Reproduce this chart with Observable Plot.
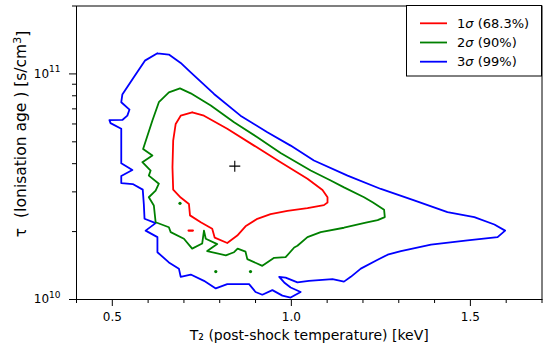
<!DOCTYPE html>
<html><head><meta charset="utf-8">
<script src="https://cdn.jsdelivr.net/npm/d3@7"></script>
<script src="https://cdn.jsdelivr.net/npm/@observablehq/plot@0.6"></script>
<style>body{margin:0;background:#fff;} svg{display:block}</style>
</head><body><div id="chart"></div>
<script>
// [T2 (keV), tau (units of 1e10 s/cm^3)]
const sigma1 = [[0.723,6.76],[0.756,6.53],[0.821,5.71],[0.896,4.81],[0.970,4.06],[1.045,3.43],[1.087,3.06],[1.101,2.84],[1.101,2.69],[1.091,2.62],[1.045,2.54],[0.989,2.47],[0.942,2.39],[0.903,2.27],[0.872,2.11],[0.849,1.92],[0.821,1.78],[0.786,1.88],[0.779,2.06],[0.747,2.20],[0.717,2.36],[0.714,2.65],[0.691,2.83],[0.670,3.07],[0.668,3.86],[0.670,5.06],[0.677,6.00],[0.691,6.53],[0.723,6.76]];
const sigma2 = [[0.689,8.63],[0.719,8.20],[0.775,7.24],[0.840,6.10],[0.905,5.24],[0.970,4.46],[1.054,3.73],[1.110,3.37],[1.147,3.14],[1.203,2.84],[1.228,2.69],[1.259,2.50],[1.261,2.32],[1.241,2.25],[1.208,2.19],[1.147,2.08],[1.082,1.99],[1.045,1.89],[1.017,1.73],[1.008,1.70],[0.984,1.54],[0.952,1.53],[0.919,1.41],[0.877,1.51],[0.872,1.63],[0.850,1.68],[0.840,1.62],[0.817,1.57],[0.765,1.64],[0.793,1.76],[0.761,1.86],[0.756,2.02],[0.751,1.77],[0.723,1.68],[0.700,1.86],[0.663,1.99],[0.658,2.09],[0.621,2.20],[0.616,2.61],[0.602,2.84],[0.621,3.04],[0.630,3.26],[0.602,3.54],[0.607,3.73],[0.584,4.06],[0.612,4.35],[0.586,4.65],[0.612,6.21],[0.630,7.49],[0.658,8.29],[0.689,8.63]];
const sigma3 = [[0.626,12.34],[0.658,12.18],[0.691,11.19],[0.719,10.16],[0.784,8.15],[0.858,6.53],[0.933,5.51],[0.998,4.81],[1.063,4.13],[1.157,3.54],[1.250,3.09],[1.343,2.75],[1.436,2.44],[1.511,2.32],[1.567,2.15],[1.597,2.02],[1.576,1.89],[1.492,1.83],[1.390,1.75],[1.306,1.64],[1.269,1.58],[1.241,1.50],[1.194,1.37],[1.166,1.26],[1.147,1.20],[1.115,1.23],[1.049,1.21],[1.017,1.19],[0.984,1.25],[0.966,1.26],[0.980,1.19],[0.998,1.13],[1.026,1.08],[0.998,1.02],[0.975,1.04],[0.947,1.10],[0.919,1.05],[0.900,1.08],[0.882,1.17],[0.821,1.17],[0.789,1.12],[0.756,1.21],[0.719,1.29],[0.691,1.26],[0.686,1.37],[0.658,1.46],[0.626,1.62],[0.626,1.89],[0.593,2.02],[0.621,2.18],[0.590,2.28],[0.588,2.65],[0.585,3.07],[0.557,3.25],[0.525,3.28],[0.525,3.53],[0.556,3.75],[0.525,4.02],[0.525,5.71],[0.495,6.05],[0.492,6.24],[0.528,6.25],[0.542,6.53],[0.548,6.95],[0.525,7.49],[0.528,8.10],[0.560,9.66],[0.591,11.45],[0.626,12.34]];
const redIsland = [[0.713,2.02],[0.725,2.02]];
const greenIslands = [[0.689,2.67],[0.789,1.33],[0.886,1.33]];
const bestFit = [[0.842,3.90]];

const xMajor = [0.5, 1.0, 1.5];
const xMinor = [0.4, 0.6, 0.7, 0.8, 0.9, 1.1, 1.2, 1.3, 1.4, 1.6, 1.7];
const yMajor = [1e10, 1e11];
const yMinor = [2e10, 3e10, 4e10, 5e10, 6e10, 7e10, 8e10, 9e10, 2e11];

const legendLevels = ["1", "2", "3"];
const legendPct = [" (68.3%)", " (90%)", " (99%)"];
const legendColors = ["red", "green", "blue"];

const xLabel = "T\u2082 (post-shock temperature) [keV]";
const yLabelParts = ["\u03c4  (Ionisation age ) [s/cm", "3", "]"];

const toPts = arr => arr.map(([T, t]) => ({T, tau: t * 1e10}));
const plusSymbol = {draw(ctx, size) { const r = Math.sqrt(size / Math.PI); ctx.moveTo(-r, 0); ctx.lineTo(r, 0); ctx.moveTo(0, -r); ctx.lineTo(0, r); }};
const LW = 1.8;

const chart = Plot.plot({
  width: 543, height: 345,
  marginLeft: 76, marginRight: 1.5, marginTop: 5.5, marginBottom: 46,
  style: {fontFamily: "DejaVu Sans", fontSize: "12px", background: "white", color: "black"},
  x: {domain: [0.4, 1.7], label: null},
  y: {type: "log", domain: [1e10, 2e11], label: null},
  marks: [
    Plot.axisX({ticks: xMinor, tickSize: 4, tickFormat: () => "", label: null}),
    Plot.axisX({ticks: xMajor, tickSize: 7, tickPadding: 6, tickFormat: d3.format(".1f"), label: null}),
    Plot.axisY({ticks: yMinor, tickSize: 4, tickFormat: () => "", label: null}),
    Plot.axisY({ticks: yMajor, tickSize: 7, tickPadding: 9, tickFormat: d => "10^" + Math.round(Math.log10(d)), label: null}),
    Plot.line(toPts(sigma3), {x: "T", y: "tau", stroke: "blue", strokeWidth: LW}),
    Plot.line(toPts(sigma2), {x: "T", y: "tau", stroke: "green", strokeWidth: LW}),
    Plot.line(toPts(sigma1), {x: "T", y: "tau", stroke: "red", strokeWidth: LW}),
    Plot.line(toPts(redIsland), {x: "T", y: "tau", stroke: "red", strokeWidth: 2.2}),
    Plot.dot(toPts(greenIslands), {x: "T", y: "tau", r: 1.6, fill: "green"}),
    Plot.dot(toPts(bestFit), {x: "T", y: "tau", symbol: plusSymbol, r: 5.5, stroke: "black", strokeWidth: 1.1, fill: "none"}),
    Plot.text([xLabel], {text: d => d, frameAnchor: "bottom", dy: 36, lineAnchor: "middle", fontSize: 14}),
    Plot.frame({stroke: "black", strokeWidth: 1})
  ]
});

const svg = d3.select(chart);
svg.selectAll("text").each(function() {
  const m = this.textContent.match(/^10\^(\d+)$/);
  if (m) {
    const t = d3.select(this);
    t.text("10");
    t.append("tspan").attr("dy", "-0.6em").attr("font-size", "9px").text(m[1]);
  }
});

// y-axis title (rotated)
const yt = svg.append("text")
  .attr("transform", "translate(21,134) rotate(-90)")
  .attr("text-anchor", "middle").attr("dy", "0.35em")
  .attr("font-family", "DejaVu Sans").attr("font-size", 15.5).attr("fill", "black");
yt.append("tspan").text(yLabelParts[0]);
yt.append("tspan").attr("dy", "-0.45em").attr("font-size", 11).text(yLabelParts[1]);
yt.append("tspan").attr("dy", "0.45em").text(yLabelParts[2]);

const lg = svg.append("g").attr("font-family", "DejaVu Sans").attr("font-size", 13).attr("text-anchor", "start");
lg.append("rect").attr("x", 406.5).attr("y", 5.5).attr("width", 135).attr("height", 70.5).attr("fill", "white").attr("stroke", "black");
legendLevels.forEach((lev, i) => {
  const y = 23.3 + i * 19.2;
  lg.append("line").attr("x1", 420).attr("x2", 447).attr("y1", y).attr("y2", y).attr("stroke", legendColors[i]).attr("stroke-width", 1.8);
  const t = lg.append("text").attr("x", 457).attr("y", y).attr("dy", "0.36em").attr("fill", "black");
  t.append("tspan").text(lev);
  t.append("tspan").attr("font-style", "italic").text("\u03c3");
  t.append("tspan").text(legendPct[i]);
});

document.getElementById("chart").append(chart);
</script>
</body></html>
